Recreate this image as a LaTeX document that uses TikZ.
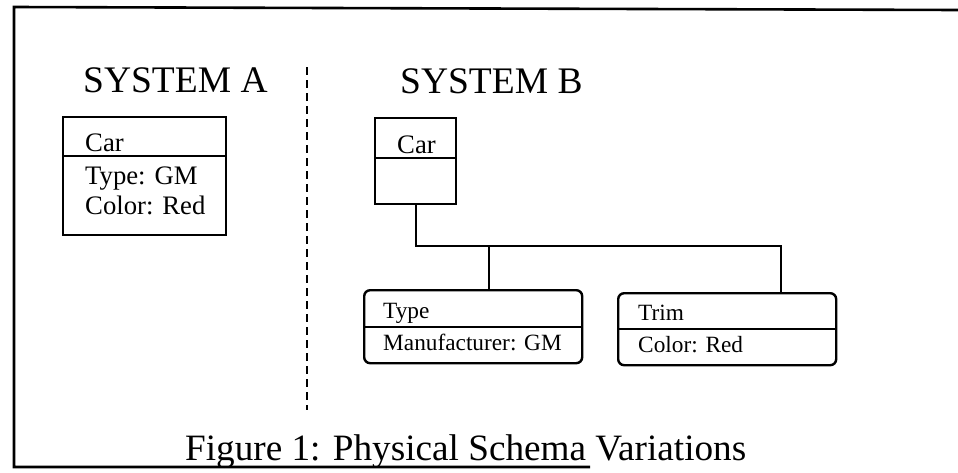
\documentclass[tikz,border=0pt]{standalone}
\usepackage{fontspec}
\setmainfont{Liberation Serif}
\begin{document}
\begin{tikzpicture}[x=1pt,y=-1pt,
  frame/.style={line width=2.6pt},
  entbox/.style={draw, line width=2.4pt, inner sep=0pt, anchor=north west},
  roundbox/.style={entbox, rounded corners=6pt},
  divider/.style={line width=2.2pt},
  link/.style={line width=2pt},
  sep/.style={line width=1.8pt, dash pattern=on 8pt off 5pt},
  title/.style={anchor=base west, inner sep=0pt, font=\fontsize{37.5}{40}\selectfont},
  fieldA/.style={anchor=base west, inner sep=0pt, font=\fontsize{26.7}{30}\selectfont},
  fieldB/.style={anchor=base west, inner sep=0pt, font=\fontsize{23.3}{26}\selectfont},
  caption/.style={anchor=base west, inner sep=0pt, font=\fontsize{37.2}{40}\selectfont}]
\useasboundingbox (0,0) rectangle (958,472);
% outer frame (left, top and bottom edges)
\coordinate (fTR) at (958,10);
\coordinate (fTL) at (14,7);
\coordinate (fBL) at (14,467);
\coordinate (fBR) at (590,467);
\draw[frame] (fTR) -- (fTL) -- (fBL) -- (fBR);
% separator
\coordinate (sTop) at (307,67);
\coordinate (sBot) at (307,410);
\draw[sep] (sTop) -- (sBot);
% titles
\node[title] (tA) at (83,92) {SYSTEM A};
\node[title] (tB) at (400,93) {SYSTEM B};
% System A box
\node[entbox, minimum width=163pt, minimum height=118pt] (boxA) at (62,116) {};
\draw[divider] (boxA.west |- 0,156) -- (boxA.east |- 0,156);
\node[fieldA] (carA) at (85,151) {Car};
\node[fieldA] (typeA) at (85,184) {Type: GM};
\node[fieldA] (colA) at (85,214) {Color: Red};
% System B car box
\node[entbox, minimum width=81pt, minimum height=86pt] (boxB) at (374,117) {};
\draw[divider] (boxB.west |- 0,158) -- (boxB.east |- 0,158);
\node[fieldA] (carB) at (397,153) {Car};
% Type and Trim boxes
\node[roundbox, minimum width=218pt, minimum height=73pt] (boxT) at (363,289) {};
\draw[divider] (boxT.west |- 0,327) -- (boxT.east |- 0,327);
\node[fieldB] (typeB) at (383,318) {Type};
\node[fieldB] (manB) at (383,350) {Manufacturer: GM};
\node[roundbox, minimum width=218pt, minimum height=72pt] (boxR) at (617,292) {};
\draw[divider] (boxR.west |- 0,329) -- (boxR.east |- 0,329);
\node[fieldB] (trimB) at (638,320) {Trim};
\node[fieldB] (colB) at (638,352) {Color: Red};
% connectors
\coordinate (dropT) at (489,246);
\coordinate (dropR) at (781,246);
\draw[link] (boxB.south) |- (dropR) -- (dropR |- boxR.north);
\draw[link] (dropT) -- (dropT |- boxT.north);
% caption
\node[caption] (cap) at (185,460) {Figure 1: Physical Schema Variations};
\end{tikzpicture}
\end{document}
